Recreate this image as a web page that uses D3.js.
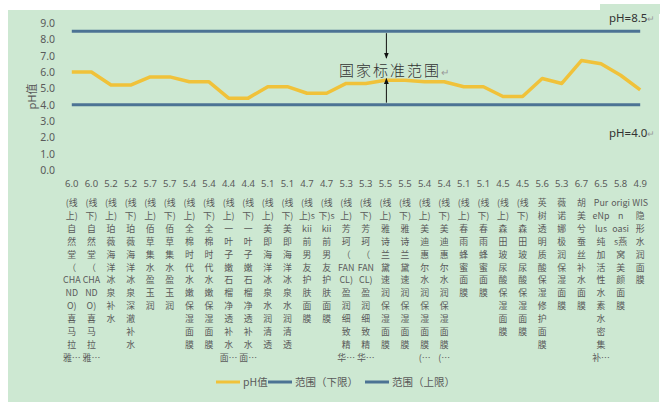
<!DOCTYPE html>
<html lang="zh">
<head>
  <meta charset="UTF-8">
  <title>pH值</title>
  <script src="https://d3js.org/d3.v7.min.js"></script>
  <style>
    html, body { margin: 0; padding: 0; background: #fff; }
    svg { display: block; }
    text { font-family: "Noto Sans CJK SC", "Noto Sans", sans-serif; }
  </style>
</head>
<body>
  <div id="chart"></div>
  <script>
    // category labels, already wrapped the way the chart shows them ("|" = line break)
    var categories = [
      "(线|上)|自|然|堂|（|CHA|ND|O)|喜|马|拉|雅…",
      "(线|下)|自|然|堂|（|CHA|ND|O)|喜|马|拉|雅…",
      "(线|上)|珀|薇|海|洋|冰|泉|补|水",
      "(线|下)|珀|薇|海|洋|冰|泉|深|澈|补|水",
      "(线|上)|佰|草|集|水|盈|玉|润",
      "(线|下)|佰|草|集|水|盈|玉|润",
      "(线|上)|全|棉|时|代|水|嫩|保|湿|面|膜",
      "(线|下)|全|棉|时|代|水|嫩|保|湿|面|膜",
      "(线|上)|一|叶|子|嫩|石|榴|净|透|补|水|面…",
      "(线|下)|一|叶|子|嫩|石|榴|净|透|补|水|面…",
      "(线|上)|美|即|海|洋|冰|泉|水|润|清|透",
      "(线|下)|美|即|海|洋|冰|泉|水|润|清|透",
      "(线|上)s|kii|前|男|友|护|肤|面|膜",
      "(线|下)s|kii|前|男|友|护|肤|面|膜",
      "(线|上)|芳|珂|（|FAN|CL)|盈|润|细|致|精|华…",
      "(线|下)|芳|珂|（|FAN|CL)|盈|润|细|致|精|华…",
      "(线|上)|雅|诗|兰|黛|速|润|保|湿|面|膜",
      "(线|下)|雅|诗|兰|黛|速|润|保|湿|面|膜",
      "(线|上)|美|迪|惠|尔|水|润|保|湿|面|膜|(…",
      "(线|下)|美|迪|惠|尔|水|润|保|湿|面|膜|(…",
      "(线|上)|春|雨|蜂|蜜|面|膜",
      "(线|下)|春|雨|蜂|蜜|面|膜",
      "(线|上)|森|田|玻|尿|酸|保|湿|面|膜",
      "(线|下)|森|田|玻|尿|酸|保|湿|面|膜",
      "英|树|透|明|质|酸|保|湿|修|护|面|膜",
      "薇|诺|娜|极|润|保|湿|面|膜",
      "胡|美|兮|蚕|丝|补|水|面|膜",
      "Pur|eNp|lus|纯|加|活|性|水|素|水|密|集|补…",
      "origi|n|oasi|s燕|窝|美|颜|面|膜",
      "WIS|隐|形|水|润|面|膜"
    ];
    var phValues = [6.0, 6.0, 5.2, 5.2, 5.7, 5.7, 5.4, 5.4, 4.4, 4.4,
                    5.1, 5.1, 4.7, 4.7, 5.3, 5.3, 5.5, 5.5, 5.4, 5.4,
                    5.1, 5.1, 4.5, 4.5, 5.6, 5.3, 6.7, 6.5, 5.8, 4.9];
    var lowerLimit = 4.0;
    var upperLimit = 8.5;
    var yTicks = [0, 1, 2, 3, 4, 5, 6, 7, 8, 9];
    var seriesNames = ["pH值", "范围（下限）", "范围（上限）"];
    var rangeLabel = "国家标准范围";

    var width = 670, height = 411;
    var colors = { ph: "#f0c23a", limit: "#4c7394", text: "#5a5a5a" };

    var svg = d3.select("#chart").append("svg")
      .attr("width", width)
      .attr("height", height);

    // green chart area
    svg.append("rect")
      .attr("x", 8).attr("y", 10)
      .attr("width", 651).attr("height", 392)
      .attr("fill", "#cde8d2");
    svg.append("rect")
      .attr("x", 600).attr("y", 4)
      .attr("width", 60).attr("height", 10)
      .attr("fill", "#cde8d2");

    var idx = d3.range(categories.length);
    var x = d3.scaleBand().domain(idx).range([62, 650]);
    var cx = function(i) { return x(i) + x.bandwidth() / 2; };
    var y = d3.scaleLinear().domain([0, 9]).range([170, 23]);

    // y axis
    var yAxis = svg.append("g")
      .attr("transform", "translate(57,0)")
      .call(d3.axisLeft(y).tickValues(yTicks).tickFormat(d3.format(".1f")).tickSize(0).tickPadding(2));
    yAxis.select(".domain").remove();
    yAxis.selectAll("text")
      .attr("fill", colors.text)
      .style("font-family", "'Noto Sans', sans-serif")
      .style("font-size", "10.5px");

    svg.append("text")
      .attr("transform", "translate(32," + y(4.5) + ") rotate(-90)")
      .attr("text-anchor", "middle")
      .attr("dy", "0.35em")
      .attr("fill", colors.text)
      .style("font-size", "11px")
      .text("pH值");

    // limit lines
    [upperLimit, lowerLimit].forEach(function(v) {
      svg.append("line")
        .attr("x1", cx(0)).attr("x2", cx(categories.length - 1))
        .attr("y1", y(v)).attr("y2", y(v))
        .attr("stroke", colors.limit)
        .attr("stroke-width", 3);
    });

    // pH line
    var line = d3.line()
      .x(function(d, i) { return cx(i); })
      .y(function(d) { return y(d); });
    svg.append("path")
      .datum(phValues)
      .attr("fill", "none")
      .attr("stroke", colors.ph)
      .attr("stroke-width", 3.5)
      .attr("stroke-linejoin", "round")
      .attr("d", line);

    // value row
    svg.append("g").selectAll("text")
      .data(phValues)
      .join("text")
      .attr("x", function(d, i) { return cx(i); })
      .attr("y", 187)
      .attr("text-anchor", "middle")
      .attr("fill", colors.text)
      .style("font-family", "'Noto Sans', sans-serif")
      .style("font-size", "9.5px")
      .text(function(d) { return d.toFixed(1); });

    // category labels, one text per row so each line sits on its own
    var rowGap = 12.9;
    var catG = svg.append("g").selectAll("g")
      .data(categories)
      .join("g");
    catG.each(function(d, i) {
      d3.select(this).selectAll("text")
        .data(d.split("|"))
        .join("text")
        .attr("x", cx(i))
        .attr("y", function(s, j) { return 206 + j * rowGap; })
        .attr("text-anchor", "middle")
        .attr("fill", colors.text)
        .style("font-size", "8.9px")
        .text(function(s) { return s; });
    });

    // range annotation with arrows
    var defs = svg.append("defs");
    defs.append("marker")
      .attr("id", "arrow")
      .attr("viewBox", "0 0 10 10")
      .attr("refX", 9).attr("refY", 5)
      .attr("markerWidth", 6).attr("markerHeight", 6)
      .attr("orient", "auto")
      .append("path")
      .attr("d", "M0,1 L10,5 L0,9 Z")
      .attr("fill", "#111");
    var ax = cx(16) + 1;
    svg.append("line")
      .attr("x1", ax).attr("x2", ax)
      .attr("y1", y(upperLimit) + 2).attr("y2", y(6.85))
      .attr("stroke", "#111").attr("stroke-width", 1)
      .attr("marker-end", "url(#arrow)");
    svg.append("line")
      .attr("x1", ax).attr("x2", ax)
      .attr("y1", y(lowerLimit) - 2).attr("y2", y(5.6))
      .attr("stroke", "#111").attr("stroke-width", 1)
      .attr("marker-end", "url(#arrow)");

    var note = svg.append("text")
      .attr("x", 339).attr("y", 76)
      .attr("fill", "#333")
      .style("font-size", "15px")
      .style("font-weight", 300)
      .style("letter-spacing", "2px");
    note.append("tspan").text(rangeLabel);
    note.append("tspan").attr("fill", "#999").style("font-size", "10px").style("letter-spacing", "0").text("↵");

    [["pH=" + upperLimit.toFixed(1), 22], ["pH=" + lowerLimit.toFixed(1), 137]].forEach(function(p) {
      var t = svg.append("text")
        .attr("x", 609).attr("y", p[1])
        .attr("fill", "#333")
        .style("font-family", "'Noto Sans', sans-serif")
        .style("font-size", "11.5px");
      t.append("tspan").text(p[0]);
      t.append("tspan").attr("fill", "#999").style("font-size", "9px").text("↵");
    });

    // legend
    var legendItems = [
      { name: seriesNames[0], color: colors.ph, x: 216 },
      { name: seriesNames[1], color: colors.limit, x: 268 },
      { name: seriesNames[2], color: colors.limit, x: 365 }
    ];
    var lg = svg.append("g").selectAll("g")
      .data(legendItems)
      .join("g")
      .attr("transform", function(d) { return "translate(" + d.x + ",382)"; });
    lg.append("line")
      .attr("x1", 0).attr("x2", 24)
      .attr("stroke", function(d) { return d.color; })
      .attr("stroke-width", 3);
    lg.append("text")
      .attr("x", 27).attr("dy", "0.35em")
      .attr("fill", colors.text)
      .style("font-size", "10.5px")
      .text(function(d) { return d.name; });
  </script>
</body>
</html>
